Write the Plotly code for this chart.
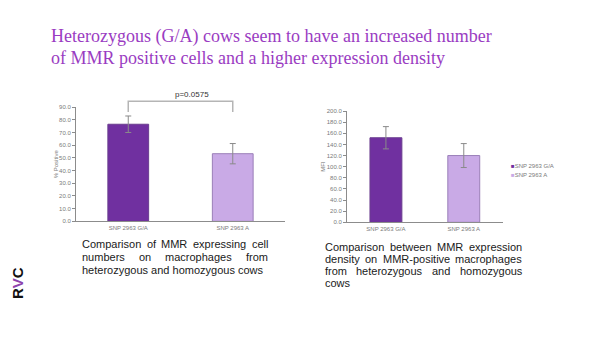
import plotly.graph_objects as go

# ---- data ----
genotypes = ["SNP 2963 G/A", "SNP 2963 A"]
pct_positive = [76.5, 53.3]
pct_positive_err = [6.5, 8.0]
mfi = [152.0, 120.0]
mfi_err = [20.0, 21.5]
p_value_label = "p=0.0575"
bar_colors = ["#7030a0", "#c9aae6"]
bar_edges = ["#6a3d8f", "#9a7fb8"]

title_lines = [
    "Heterozygous (G/A) cows seem to have an increased number",
    "of MMR positive cells and a higher expression density",
]
caption_left = [
    "Comparison of MMR expressing cell",
    "numbers on macrophages from",
    "heterozygous and homozygous cows",
]
caption_right = [
    "Comparison between MMR expression",
    "density on MMR-positive macrophages",
    "from heterozygous and homozygous",
    "cows",
]

W, H = 600, 337
AXIS_GREY = "#8c8c8c"
TICK_FONT = dict(family="Liberation Sans", size=6, color="#7a7a7a")


def px(x):
    return x / W


def py(y):
    return 1 - y / H


fig = go.Figure()

# bars: one trace per genotype in each panel
for i, g in enumerate(genotypes):
    fig.add_trace(go.Bar(
        x=[g], y=[pct_positive[i]], width=[0.39],
        marker=dict(color=bar_colors[i], line=dict(color=bar_edges[i], width=1)),
        error_y=dict(type="data", array=[pct_positive_err[i]], color="#8a8a8a",
                     thickness=1, width=3),
        xaxis="x", yaxis="y", showlegend=False, name=g,
    ))
    fig.add_trace(go.Bar(
        x=[g], y=[mfi[i]], width=[0.41],
        marker=dict(color=bar_colors[i], line=dict(color=bar_edges[i], width=1)),
        error_y=dict(type="data", array=[mfi_err[i]], color="#8a8a8a",
                     thickness=1, width=3),
        xaxis="x2", yaxis="y2", showlegend=False, name=g,
    ))

common_x = dict(type="category", range=[-0.5, 1.5], showline=True,
                linecolor=AXIS_GREY, linewidth=1, ticks="", tickfont=TICK_FONT,
                showgrid=False, zeroline=False, fixedrange=True,
                categoryorder="array", categoryarray=genotypes)
common_y = dict(showline=True, linecolor=AXIS_GREY, linewidth=1, ticks="outside",
                ticklen=3, tickcolor=AXIS_GREY, tickfont=TICK_FONT,
                tickformat=".1f", showgrid=False, zeroline=False)

fig.update_layout(
    width=W, height=H,
    margin=dict(l=0, r=0, t=0, b=0),
    paper_bgcolor="white", plot_bgcolor="white",
    barmode="overlay",
    showlegend=False,
    xaxis=dict(domain=[px(76), px(285)], anchor="y", **common_x),
    yaxis=dict(domain=[py(222.3), py(106)], anchor="x", range=[0, 90], dtick=10,
               title=dict(text="% Positive", font=TICK_FONT, standoff=0), **common_y),
    xaxis2=dict(domain=[px(347), px(502.7)], anchor="y2", **common_x),
    yaxis2=dict(domain=[py(223.3), py(110)], anchor="x2", range=[0, 200], dtick=20,
                title=dict(text="MFI", font=TICK_FONT, standoff=0), **common_y),
)

# significance bracket between the two genotypes in the left panel
fig.add_shape(type="path", xref="x", yref="paper",
              path=f"M 0,{py(111)} L 0,{py(100)} L 1,{py(100)} L 1,{py(111)}",
              line=dict(color="#b5b5b5", width=1.5))

ann = []
ann.append(dict(x=px(173), y=py(87), xref="paper", yref="paper", text=p_value_label,
                showarrow=False, font=dict(family="Liberation Sans", size=8, color="#333333")))

# title
for i, line in enumerate(title_lines):
    ann.append(dict(x=px(49), y=py(34 + 22 * i), xref="paper", yref="paper", text=line,
                    showarrow=False, xanchor="left", yanchor="middle",
                    font=dict(family="Liberation Serif", size=18, color="#9a3cc2")))

# legend, built from the genotype names and colours
for i, g in enumerate(genotypes):
    ann.append(dict(x=px(509), y=py(166 + 9.5 * i), xref="paper", yref="paper",
                    text=f"<span style='color:{bar_colors[i]}'>■</span>{g}",
                    showarrow=False, xanchor="left", yanchor="middle",
                    font=dict(family="Liberation Sans", size=6, color="#7a7a7a")))

# approximate Arial advance widths (per 1000 em) for justifying captions
ARIAL = {c: 556 for c in "abdeghnopqu0123456789"}
ARIAL.update({"c": 500, "f": 278, "i": 222, "j": 222, "k": 500, "l": 222, "m": 833,
              "r": 333, "s": 500, "t": 278, "v": 500, "w": 722, "x": 500, "y": 500,
              "z": 500, "M": 833, "R": 722, "C": 722, " ": 278, "-": 333})


def text_width(s, size):
    return sum(ARIAL.get(ch, 556) for ch in s) * size / 1000


CAP_SIZE = 11
CAP_FONT = dict(family="Liberation Sans", size=CAP_SIZE, color="#1a1a1a")


def add_caption(lines, left, right, top, step):
    for k, line in enumerate(lines):
        yy = py(top + step * k)
        words = line.split(" ")
        last = k == len(lines) - 1
        if last or len(words) == 1:
            ann.append(dict(x=px(left), y=yy, xref="paper", yref="paper", text=line,
                            showarrow=False, xanchor="left", yanchor="middle",
                            font=CAP_FONT, borderpad=0, borderwidth=0))
            continue
        widths = [text_width(w, CAP_SIZE) for w in words]
        gap = (right - left - sum(widths)) / (len(words) - 1)
        xpos = left
        for w, wd in zip(words, widths):
            ann.append(dict(x=px(xpos), y=yy, xref="paper", yref="paper", text=w,
                            showarrow=False, xanchor="left", yanchor="middle",
                            font=CAP_FONT, borderpad=0, borderwidth=0))
            xpos += wd + gap


add_caption(caption_left, 82, 268, 245, 13.2)
add_caption(caption_right, 325, 522, 248.5, 12.3)

# RVC mark, rotated
ann.append(dict(x=px(18), y=py(285), xref="paper", yref="paper",
                text="R<span style='color:#8e44ad'>V</span>C", textangle=-90,
                showarrow=False, xanchor="center", yanchor="middle",
                font=dict(family="Liberation Sans", size=15, color="#111111", weight="bold")))

fig.update_layout(annotations=ann)
fig.write_html("out.html")
